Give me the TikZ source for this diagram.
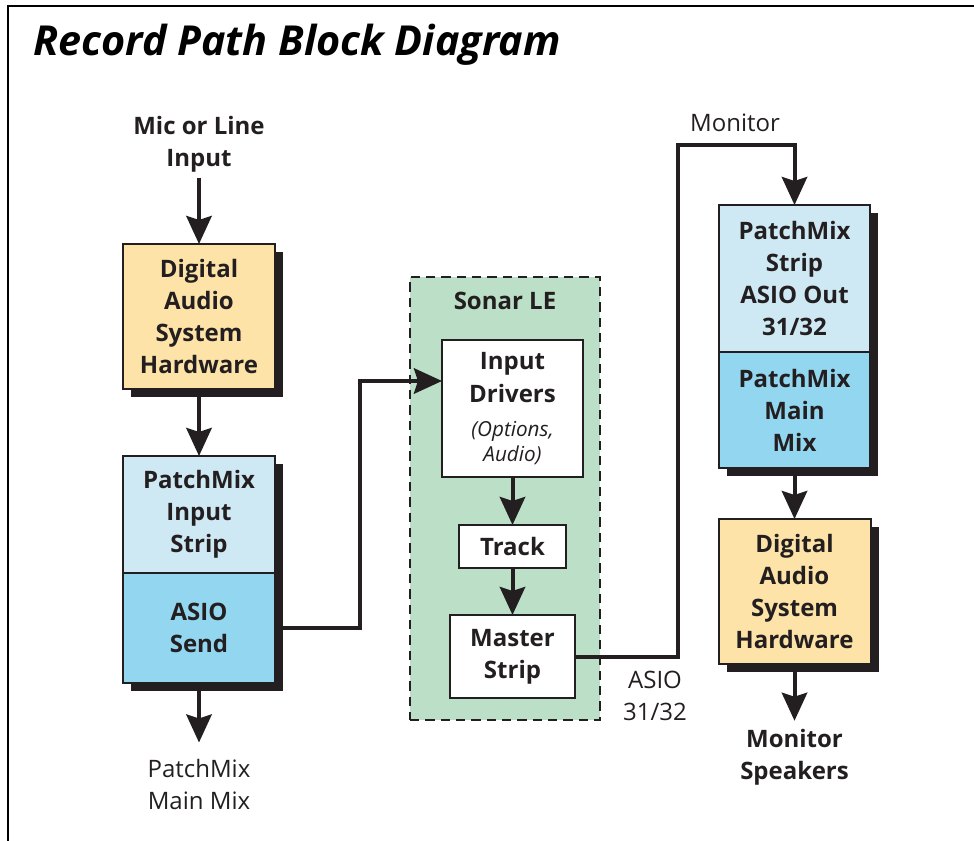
\documentclass[tikz,border=0pt]{standalone}
\usepackage{fontspec}
\setmainfont{Open Sans}
\usetikzlibrary{arrows.meta,shadows}
\definecolor{ink}{HTML}{231F20}
\definecolor{boxorange}{HTML}{FDE3A7}
\definecolor{boxpale}{HTML}{CEE9F4}
\definecolor{boxblue}{HTML}{93D6F0}
\definecolor{sonargreen}{HTML}{BCDFC8}
\tikzset{
  box/.style={draw=ink, line width=1.5pt, inner sep=0pt, outer sep=0pt, align=center,
    text=ink, font=\bfseries\fontsize{18}{24}\selectfont},
  shad/.style={drop shadow={shadow xshift=6pt, shadow yshift=-6pt, opacity=1, fill=ink}},
  whitebox/.style={box, fill=white, line width=2.2pt},
  arr/.style={draw=ink, line width=3pt, -{Stealth[length=21pt, width=19pt, inset=3pt]}},
  lbl/.style={align=center, text=ink, inner sep=0pt, font=\fontsize{18}{24}\selectfont},
  boldlbl/.style={lbl, font=\bfseries\fontsize{18}{24}\selectfont},
}
\begin{document}
\begin{tikzpicture}[x=0.75pt,y=-0.75pt]
\useasboundingbox (0,0) rectangle (974,841);
\draw[line width=1.5pt, black] (8,841) -- (8,6) -- (974,6);
\node[anchor=base west, inner sep=0pt, text=black, font=\bfseries\itshape\fontsize{31}{33}\selectfont] (title) at (33,56) {Record Path Block Diagram};

% left column
\node[boldlbl] (mic) at (199,144) {Mic or Line\\Input};
\node[box, shad, fill=boxorange, minimum width=114pt, minimum height=108.75pt] (dash1) at (199,316.5) {Digital\\Audio\\System\\Hardware};
\node[box, shad, fill=boxpale, minimum width=114pt, minimum height=87.75pt] (pmin) at (199,514.5) {PatchMix\\Input\\Strip};
\node[box, shad, fill=boxblue, minimum width=114pt, minimum height=82.5pt] (asend) at (199,628) {ASIO\\Send};
\node[lbl] (pmmain) at (199,784) {PatchMix\\Main Mix};

\draw[arr, shorten <=4pt] (mic.south) -- (dash1.north);
\draw[arr] (dash1.south) -- (pmin.north);
\draw[arr, shorten >=12pt] (asend.south) -- (pmmain.north);

% Sonar LE
\node[draw=ink, line width=2pt, dash pattern=on 7pt off 4.5pt, fill=sonargreen, minimum width=142.5pt, minimum height=332pt, inner sep=0pt] (sonar) at (505,498.5) {};
\node[boldlbl] (sonarlbl) at (505,301) {Sonar LE};
\node[whitebox, minimum width=105.75pt, minimum height=102.75pt, font=\bfseries\fontsize{18}{25}\selectfont] (indrv) at (512.5,408.5)
  {Input\\Drivers\\{\mdseries\itshape\fontsize{15.5}{18}\selectfont (Options,}\\[-6pt]{\mdseries\itshape\fontsize{15.5}{18}\selectfont Audio)}};
\node[whitebox, minimum width=80.25pt, minimum height=32.25pt] (track) at (512.5,546.5) {Track};
\node[whitebox, minimum width=93.75pt, minimum height=62.25pt] (master) at (512.5,656.5) {Master\\Strip};

\coordinate (j1) at (360,381);
\draw[arr] (asend.east) -| (j1) -- (j1 -| indrv.west);
\draw[arr] (indrv.south) -- (track.north);
\draw[arr] (track.south) -- (master.north);

\node[lbl] (asiolbl) at (655,696) {ASIO\\31/32};
\node[lbl] (monlbl) at (735,123) {Monitor};

% right column
\node[box, shad, fill=boxpale, minimum width=113.25pt, minimum height=110.25pt] (pmstrip) at (794.5,278.5) {PatchMix\\Strip\\ASIO Out\\31/32};
\node[box, shad, fill=boxblue, minimum width=113.25pt, minimum height=87pt] (pmmix) at (794.5,410) {PatchMix\\Main\\Mix};
\node[box, shad, fill=boxorange, minimum width=114pt, minimum height=108.75pt] (dash2) at (794.5,591.5) {Digital\\Audio\\System\\Hardware};
\node[boldlbl] (spk) at (794.5,757) {Monitor\\Speakers};

\coordinate (j2) at (678,145);
\draw[arr] (master.east) -| (j2) -| (pmstrip.north);
\draw[arr] (pmmix.south) -- (dash2.north);
\draw[arr, shorten >=6pt] (dash2.south) -- (spk.north);
\end{tikzpicture}
\end{document}
